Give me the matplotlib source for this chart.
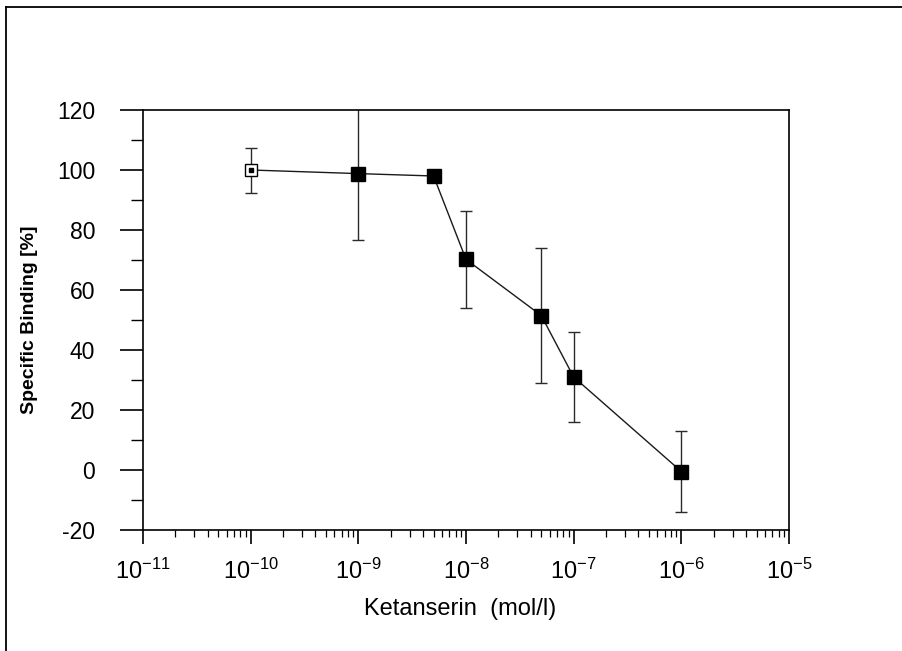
import matplotlib
matplotlib.use("Agg")
import matplotlib.pyplot as plt
from matplotlib.lines import Line2D
from matplotlib.ticker import LogLocator, FixedLocator, NullFormatter

plt.rcParams['font.family'] = ['Liberation Sans', 'DejaVu Sans']
plt.rcParams['mathtext.default'] = 'regular'
plt.rcParams['axes.unicode_minus'] = False

# Ketanserin displacement data (concentration in mol/l, specific binding in %)
concentration = [1e-10, 1e-9, 5e-9, 1e-8, 5e-8, 1e-7, 1e-6]
binding = [100.0, 98.8, 98.0, 70.2, 51.5, 31.0, -0.5]
binding_err = [7.5, 22.0, 1.5, 16.2, 22.5, 15.0, 13.5]

y_ticks = [-20, 0, 20, 40, 60, 80, 100, 120]
y_minor = [-10, 10, 30, 50, 70, 90, 110]
x_decades = [1e-11, 1e-10, 1e-9, 1e-8, 1e-7, 1e-6, 1e-5]
x_ticklabels = ['$10^{-11}$', '$10^{-10}$', '$10^{-9}$', '$10^{-8}$',
                '$10^{-7}$', '$10^{-6}$', '$10^{-5}$']

W, H = 903, 651
fig = plt.figure(figsize=(W / 100, H / 100), dpi=100)
fig.patch.set_facecolor('white')

# page frame: left and top edges
fx, fy = 6.5 / W, 1 - 6.5 / H
fig.add_artist(Line2D([fx, fx], [0, fy], transform=fig.transFigure,
                      color='black', lw=1.3))
fig.add_artist(Line2D([fx, 1], [fy, fy], transform=fig.transFigure,
                      color='black', lw=1.3))

ax = fig.add_axes([143 / W, 1 - 530 / H, (789 - 143) / W, (530 - 110) / H])
ax.set_xscale('log')
ax.set_xlim(1e-11, 1e-5)
ax.set_ylim(-20, 120)

line_col = '#1a1a1a'
ax.errorbar(concentration, binding, yerr=binding_err, fmt='none',
            ecolor='#2a2a2a', elinewidth=1.0, capsize=4.5, capthick=1.0,
            zorder=2)
ax.plot(concentration, binding, color=line_col, lw=1.0, zorder=3)
ax.plot(concentration[1:], binding[1:], 's', color='black', ms=9.5,
        zorder=4, lw=0)
ax.plot(concentration[:1], binding[:1], 's', mfc='white', mec='black',
        mew=1.0, ms=8, ls='none', zorder=4)
ax.plot(concentration[:1], binding[:1], 's', color='black', ms=3.5,
        ls='none', zorder=5)

# spines
for side in ['left', 'right', 'top', 'bottom']:
    ax.spines[side].set_linewidth(1.2)
    ax.spines[side].set_color('black')

# y axis ticks
ax.yaxis.set_major_locator(FixedLocator(y_ticks))
ax.yaxis.set_minor_locator(FixedLocator(y_minor))
ax.tick_params(axis='y', which='major', direction='out', length=16.5,
               width=1.2, pad=18, labelsize=16.5)
ax.tick_params(axis='y', which='minor', direction='out', length=8.5,
               width=1.0)

# x axis ticks
ax.xaxis.set_major_locator(FixedLocator(x_decades))
ax.set_xticklabels(x_ticklabels)
ax.xaxis.set_minor_locator(LogLocator(base=10, subs=range(2, 10), numticks=20))
ax.xaxis.set_minor_formatter(NullFormatter())
ax.tick_params(axis='x', which='major', direction='out', length=10,
               width=1.2, pad=11, labelsize=17)
ax.tick_params(axis='x', which='minor', direction='out', length=5,
               width=0.9)

ax.set_ylabel('Specific Binding [%]', fontsize=14, fontweight='bold')
ax.yaxis.set_label_coords(-0.1625, 0.5)
ax.set_xlabel('Ketanserin  (mol/l)', fontsize=17)
ax.xaxis.set_label_coords(0.491, -0.162)

fig.savefig('out.png', dpi=100, facecolor='white')
